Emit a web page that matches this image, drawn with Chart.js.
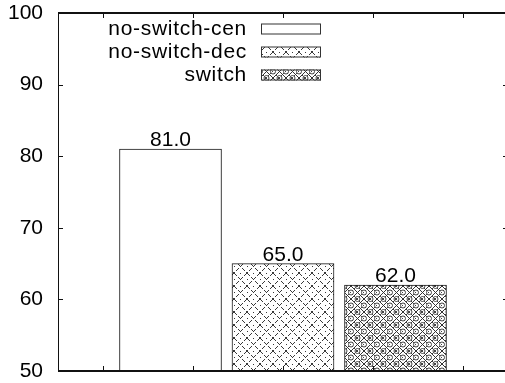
<!DOCTYPE html>
<html>
<head>
<meta charset="UTF-8">
<title>Bar chart</title>
<style>
    body { margin: 0; background: #fff; overflow: hidden; }
    #wrap { width: 520px; height: 383px; }
</style>
<script src="https://cdn.jsdelivr.net/npm/chart.js"></script>
</head>
<body>
<div id="wrap"><canvas id="chart" width="520" height="383"></canvas></div>
<script>
    // data
    const seriesNames = ['no-switch-cen', 'no-switch-dec', 'switch'];
    const seriesValues = [81.0, 65.0, 62.0];
    const barX = [0.75, 2.0, 3.25];
    const yTicks = [50, 60, 70, 80, 90, 100];
    const xTicks = [0, 1, 2, 3, 4];

    const FONT = "'Liberation Sans', Arial, Helvetica, sans-serif";

    // gnuplot style fill patterns
    function makePattern(kind) {
        if (kind === 0) return '#ffffff';
        const n = 13;
        const c = document.createElement('canvas');
        c.width = n; c.height = n;
        const g = c.getContext('2d');
        g.fillStyle = '#fff';
        g.fillRect(0, 0, n, n);
        g.fillStyle = kind === 1 ? '#3a3a3a' : '#333';
        for (let i = 0; i < n; i++) {
            if (kind === 1 && i % 4 === 3) continue;
            g.fillRect(i, i, 1, 1);
            g.fillRect(n - 1 - i, i, 1, 1);
        }
        if (kind === 1) {
            g.fillRect(6, 0, 1, 1);
            g.fillRect(0, 6, 1, 1);
            g.fillRect(6, 6, 1, 1);
        }
        if (kind === 2) {
            g.fillStyle = '#444';
            for (let i = 0; i < n; i += 2) {
                g.fillRect((i + 6) % n, i, 1, 1);
                g.fillRect((n - 1 - i + 6) % n, i, 1, 1);
            }
            g.strokeStyle = '#444';
            g.lineWidth = 1;
            g.beginPath(); g.arc(6.5, 0, 2.5, 0, Math.PI * 2); g.stroke();
            g.beginPath(); g.arc(6.5, n, 2.5, 0, Math.PI * 2); g.stroke();
            g.beginPath(); g.arc(0, 6.5, 2.5, 0, Math.PI * 2); g.stroke();
            g.beginPath(); g.arc(n, 6.5, 2.5, 0, Math.PI * 2); g.stroke();
        }
        return g.createPattern(c, 'repeat');
    }
    const fills = [makePattern(0), makePattern(1), makePattern(2)];

    const framePlugin = {
        id: 'frame',
        afterDatasetsDraw(chart) {
            const ctx = chart.ctx;
            const a = chart.chartArea;
            const xs = chart.scales.x, ys = chart.scales.y;
            ctx.save();
            ctx.strokeStyle = '#111';
            // border
            ctx.lineWidth = 2;
            ctx.beginPath();
            ctx.moveTo(a.left, a.top); ctx.lineTo(a.right, a.top);
            ctx.moveTo(a.left, a.bottom); ctx.lineTo(a.right, a.bottom);
            ctx.stroke();
            ctx.lineWidth = 1;
            ctx.beginPath();
            ctx.moveTo(a.left + 0.5, a.top); ctx.lineTo(a.left + 0.5, a.bottom);
            ctx.moveTo(a.right - 0.5, a.top); ctx.lineTo(a.right - 0.5, a.bottom);
            ctx.stroke();
            // inward ticks
            ctx.beginPath();
            xTicks.forEach(v => {
                const px = Math.round(xs.getPixelForValue(v)) + 0.5;
                ctx.moveTo(px, a.bottom); ctx.lineTo(px, a.bottom - 5);
                ctx.moveTo(px, a.top); ctx.lineTo(px, a.top + 5);
            });
            yTicks.forEach(v => {
                const py = Math.round(ys.getPixelForValue(v)) + 0.5;
                ctx.moveTo(a.left, py); ctx.lineTo(a.left + 5, py);
                ctx.moveTo(a.right, py); ctx.lineTo(a.right - 5, py);
            });
            ctx.stroke();

            // value labels above bars
            ctx.fillStyle = '#000';
            ctx.font = '21px ' + FONT;
            ctx.textAlign = 'center';
            ctx.textBaseline = 'alphabetic';
            const meta = chart.getDatasetMeta(0);
            meta.data.forEach((bar, i) => {
                ctx.fillText(seriesValues[i].toFixed(1), bar.x, bar.y - 3);
            });

            // key, gnuplot style: text right aligned, swatch to the right
            ctx.textAlign = 'right';
            ctx.textBaseline = 'middle';
            ctx.letterSpacing = '0.7px';
            seriesNames.forEach((name, i) => {
                const cy = 29 + i * 23;
                ctx.fillStyle = '#000';
                ctx.fillText(name, 247, cy);
                ctx.fillStyle = fills[i];
                ctx.fillRect(261, cy - 5.5, 60, 11);
                ctx.strokeStyle = '#333';
                ctx.strokeRect(261.5, cy - 5, 59, 10);
            });
            ctx.restore();
        }
    };

    new Chart(document.getElementById('chart'), {
        type: 'bar',
        data: {
            datasets: [{
                label: 'values',
                data: seriesValues.map((v, i) => ({ x: barX[i], y: v })),
                backgroundColor: fills,
                borderColor: '#1a1a1a',
                borderWidth: 1,
                borderSkipped: false,
                barThickness: 102
            }]
        },
        options: {
            responsive: false,
            animation: false,
            devicePixelRatio: 1,
            layout: { padding: { left: 0, top: 13, right: 12, bottom: 12 } },
            plugins: { legend: { display: false }, tooltip: { enabled: false } },
            scales: {
                x: {
                    type: 'linear',
                    min: -0.5,
                    max: 4.5,
                    offset: false,
                    display: false
                },
                y: {
                    min: 50,
                    max: 100,
                    afterFit(scale) {
                        scale.width = 58;
                        scale.paddingTop = 0;
                        scale.paddingBottom = 0;
                    },
                    afterBuildTicks(scale) { scale.ticks = yTicks.map(v => ({ value: v })); },
                    border: { display: false },
                    grid: { display: false, drawTicks: false },
                    ticks: {
                        padding: 15,
                        color: '#000',
                        font: { family: FONT, size: 21 }
                    }
                }
            }
        },
        plugins: [framePlugin]
    });
</script>
</body>
</html>
